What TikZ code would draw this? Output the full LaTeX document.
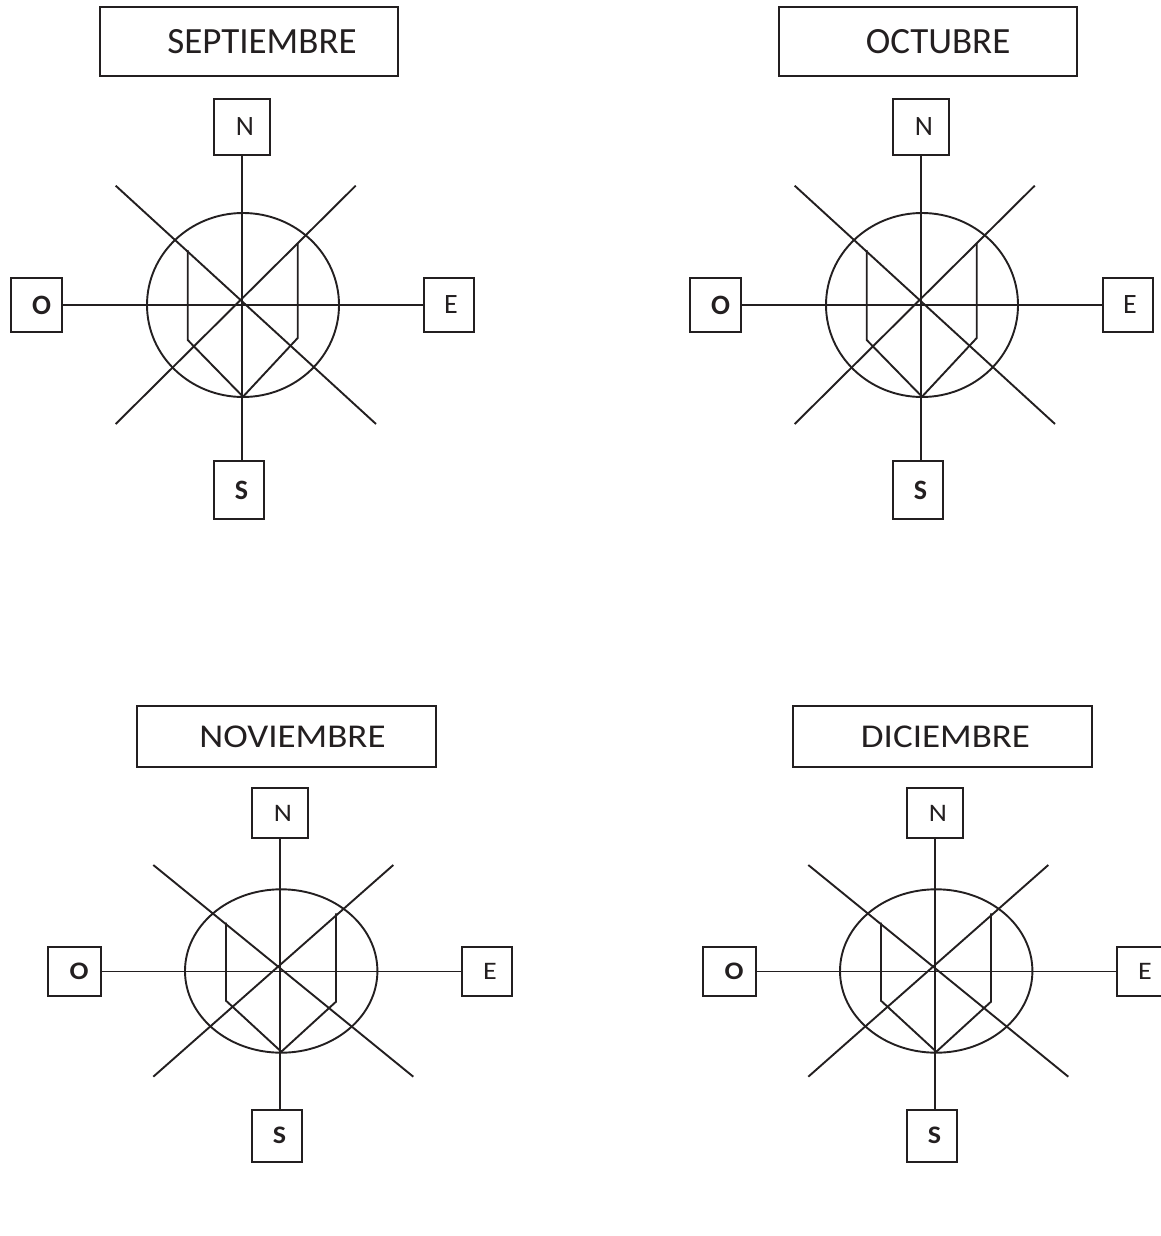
\documentclass[tikz,border=0pt]{standalone}
\usepackage{graphicx}
\usepackage{fontspec}
\setmainfont{Carlito}
\definecolor{ink}{RGB}{35,31,32}
\newcommand\sqz[1]{\scalebox{1}[0.9]{#1}}
\tikzset{
  titlebox/.style={draw=ink, line width=2pt, inner sep=0pt, font=\fontsize{37}{40}\selectfont, text=ink},
  dirbox/.style={draw=ink, line width=2pt, inner sep=0pt, font=\fontsize{28}{30}\selectfont, text=ink},
  rose/.style={draw=ink, line width=1.9pt},
}
\newcommand\topcompass[2]{%
\begin{scope}[xshift=#2pt]
\node[dirbox, minimum width=56pt, minimum height=56pt] (N#1) at (242,127) {\hspace*{6pt}N};
\node[dirbox, minimum width=50pt, minimum height=58pt] (S#1) at (239,490) {\hspace*{5pt}\textbf{S}};
\node[dirbox, minimum width=51pt, minimum height=54pt] (O#1) at (36.5,305) {\hspace*{10pt}\textbf{O}};
\node[dirbox, minimum width=50pt, minimum height=54pt] (E#1) at (449,305) {\hspace*{4pt}E};
\draw[rose] (N#1.south) -- (N#1.south |- S#1.north);
\draw[rose] (O#1.east) -- (E#1.west);
\draw[rose] (243,305) ellipse [x radius=96, y radius=92];
\draw[rose] (115.7,185.7) -- (376,424);
\draw[rose] (355.7,185.7) -- (115.7,424);
\draw[rose] (187.7,250) -- (187.7,340) -- (243,396.7) -- (297.7,338) -- (297.7,243);
\end{scope}}
\newcommand\botcompass[2]{%
\begin{scope}[xshift=#2pt]
\node[dirbox, minimum width=56pt, minimum height=50pt] (N#1) at (280.3,813) {\hspace*{5pt}\sqz{N}};
\node[dirbox, minimum width=50pt, minimum height=51.7pt] (S#1) at (277.3,1135.8) {\hspace*{4.4pt}\sqz{\textbf{S}}};
\node[dirbox, minimum width=52.4pt, minimum height=48.4pt] (O#1) at (74.5,971.5) {\hspace*{9.4pt}\sqz{\textbf{O}}};
\node[dirbox, minimum width=50.6pt, minimum height=48.4pt] (E#1) at (487,971.5) {\hspace*{6pt}\sqz{E}};
\draw[rose] (N#1.south) -- (N#1.south |- S#1.north);
\draw[rose] (O#1.east) -- (E#1.west);
\draw[rose] (281.2,971) ellipse [x radius=96.2, y radius=81.7];
\draw[rose] (153.3,865) -- (413.3,1076.7);
\draw[rose] (393.3,865) -- (153.3,1076.7);
\draw[rose] (226,922.7) -- (226,1000.7) -- (281.3,1051.7) -- (336,1001.7) -- (336,913.3);
\end{scope}}

\begin{document}
\begin{tikzpicture}[x=1pt,y=-1pt]
\useasboundingbox (0,0) rectangle (1161,1236);
\clip (0,0) rectangle (1161,1236);
\fill[white] (0,0) rectangle (1161,1236);

\node[titlebox, minimum width=298pt, minimum height=69pt] (T1) at (249,41.5) {\hspace*{26pt}SEPTIEMBRE};
\node[titlebox, minimum width=298.3pt, minimum height=69pt] (T2) at (928.2,41.5) {\hspace*{20pt}OCTUBRE};
\node[titlebox, minimum width=298.7pt, minimum height=61.3pt] (T3) at (286.7,736.3) {\hspace*{11.6pt}\sqz{NOVIEMBRE}};
\node[titlebox, minimum width=299pt, minimum height=61.3pt] (T4) at (942.2,736.3) {\hspace*{6.6pt}\sqz{DICIEMBRE}};

\topcompass{a}{0}
\topcompass{b}{679}
\botcompass{c}{0}
\botcompass{d}{655}
\end{tikzpicture}
\end{document}
